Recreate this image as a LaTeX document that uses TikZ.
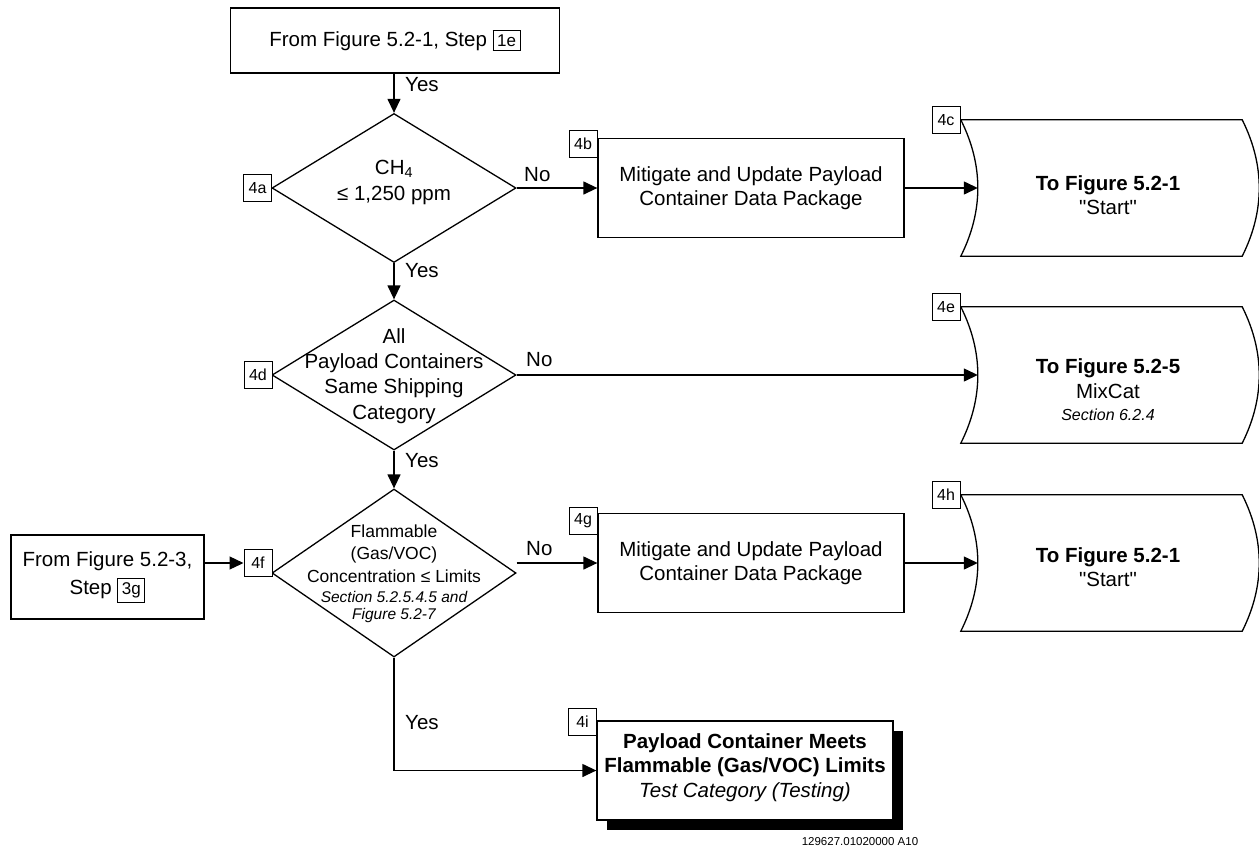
\documentclass[tikz,border=0pt]{standalone}
\usepackage{fontspec}
\setmainfont{Liberation Sans}[Ligatures=TeXOff]
\usetikzlibrary{arrows.meta,shapes.geometric,calc,shadows}
\newcommand{\stepref}[1]{{\setlength{\fboxsep}{3.5pt}\setlength{\fboxrule}{1pt}\fbox{\fontsize{17}{17}\selectfont #1}}}
\newcommand{\offpagepath}[1]{%
  \draw[ln] (#1.north west) -- (#1.north east)
    .. controls +(22.7,45.3) and +(22.7,-45.3) .. (#1.south east)
    -- (#1.south west)
    .. controls +(22.7,-45.3) and +(22.7,45.3) .. (#1.north west) -- cycle;
  \coordinate (#1-in) at ($(#1.west)+(17,0)$);}
\begin{document}
\begin{tikzpicture}[x=1pt,y=-1pt,
  every node/.style={font=\fontsize{20.5}{24.5}\selectfont, inner sep=0pt},
  ln/.style={line width=1.3pt},
  arr/.style={ln,-{Triangle[length=14pt,width=13pt]}},
  box/.style={draw,ln,rectangle,fill=white},
  lbl/.style={draw,line width=1pt,fill=white,minimum width=28pt,minimum height=27pt,font=\fontsize{16}{16}\selectfont},
  dia/.style={draw,ln,diamond,minimum width=244pt,minimum height=#1},
  dia/.default=150pt,
  offp/.style={minimum width=281pt,minimum height=136pt},
  yn/.style={anchor=west}
]
\useasboundingbox (0,0) rectangle (1259,847);

% start box
\node[box,minimum width=329pt,minimum height=65pt] (start) at (395,40.5) {From Figure 5.2-1, Step \stepref{1e}};

% diamond 4a
\node[dia=149pt] (d4a) at (394,188) {};
\node[font=\fontsize{20.5}{26}\selectfont,align=center] (d4a-t) at (394,182) {CH\textsubscript{4}\\≤ 1,250 ppm};
\node[lbl] (l4a) at (257.5,188) {4a};

% box 4b
\node[box,minimum width=306pt,minimum height=99pt,align=center] (b4b) at (751,188) {Mitigate and Update Payload\\Container Data Package};
\node[lbl] (l4b) at (583,144) {4b};

% off-page 4c
\node[offp] (c4c) at (1101.5,188) {};
\offpagepath{c4c}
\node[align=center] (c4c-t) at (1108,195) {\textbf{To Figure 5.2-1}\\"Start"};
\node[lbl] (l4c) at (946,120) {4c};

% diamond 4d
\node[dia=150pt] (d4d) at (394,375) {};
\node[font=\fontsize{20.5}{25.3}\selectfont,align=center] (d4d-t) at (394,376) {All\\Payload Containers\\Same Shipping\\Category};
\node[lbl] (l4d) at (258,375) {4d};

% off-page 4e
\node[offp] (c4e) at (1101.5,375) {};
\offpagepath{c4e}
\node[align=center] (c4e-t) at (1108,390) {\textbf{To Figure 5.2-5}\\MixCat\\[-2pt]{\fontsize{16}{20}\selectfont\itshape Section 6.2.4}};
\node[lbl] (l4e) at (946,307) {4e};

% diamond 4f
\node[dia=168pt] (d4f) at (394,573) {};
\node[font=\fontsize{17.5}{22.5}\selectfont,align=center] (d4f-t) at (394,574) {Flammable\\(Gas/VOC)\\Concentration ≤ Limits\\[-2.5pt]{\fontsize{15.5}{17.5}\selectfont\itshape Section 5.2.5.4.5 and}\\[-5pt]{\fontsize{15.5}{17.5}\selectfont\itshape Figure 5.2-7}};
\node[lbl] (l4f) at (258,563) {4f};

% from figure 5.2-3
\node[box,minimum width=193pt,minimum height=84pt,align=center] (from53) at (107.5,577) {From Figure 5.2-3,\\[4pt]Step \stepref{3g}};

% box 4g
\node[box,minimum width=306pt,minimum height=99pt,align=center] (b4g) at (751,563) {Mitigate and Update Payload\\Container Data Package};
\node[lbl] (l4g) at (583,521) {4g};

% off-page 4h
\node[offp] (c4h) at (1101.5,563) {};
\offpagepath{c4h}
\node[align=center] (c4h-t) at (1108,567) {\textbf{To Figure 5.2-1}\\"Start"};
\node[lbl] (l4h) at (946,495) {4h};

% box 4i
\node[box,minimum width=296pt,minimum height=99pt,align=center,
  drop shadow={shadow xshift=10pt,shadow yshift=-10pt,opacity=1,fill=black}] (b4i) at (745,770.5) {};
\node[align=center] (b4i-t) at (745,767.5) {\textbf{Payload Container Meets}\\\textbf{Flammable (Gas/VOC) Limits}\\\textit{Test Category (Testing)}};
\node[lbl] (l4i) at (582.5,722) {4i};

\node[font=\fontsize{11.5}{12}\selectfont] (fig) at (860,842) {129627.01020000 A10};

% connectors
\draw[arr] (start.south -| d4a.north) -- (d4a.north);
\node[yn] (y1) at (405,85) {Yes};
\draw[arr] (d4a.east) -- (b4b.west);
\node[yn] (n1) at (524,175) {No};
\draw[arr] (b4b.east) -- (c4c-in);
\draw[arr] (d4a.south) -- (d4d.north);
\node[yn] (y2) at (405,271) {Yes};
\draw[arr] (d4d.east) -- (c4e-in);
\node[yn] (n2) at (526,360) {No};
\draw[arr] (d4d.south) -- (d4f.north);
\node[yn] (y3) at (405,461) {Yes};
\draw[arr] (from53.east |- l4f.west) -- (l4f.west);
\draw[arr] (d4f.east |- b4g.west) -- (b4g.west);
\node[yn] (n3) at (526,549) {No};
\draw[arr] (b4g.east) -- (c4h-in);
\draw[arr] (d4f.south) -- (d4f.south |- b4i.west) -- (b4i.west);
\node[yn] (y4) at (405,723) {Yes};
\end{tikzpicture}
\end{document}
